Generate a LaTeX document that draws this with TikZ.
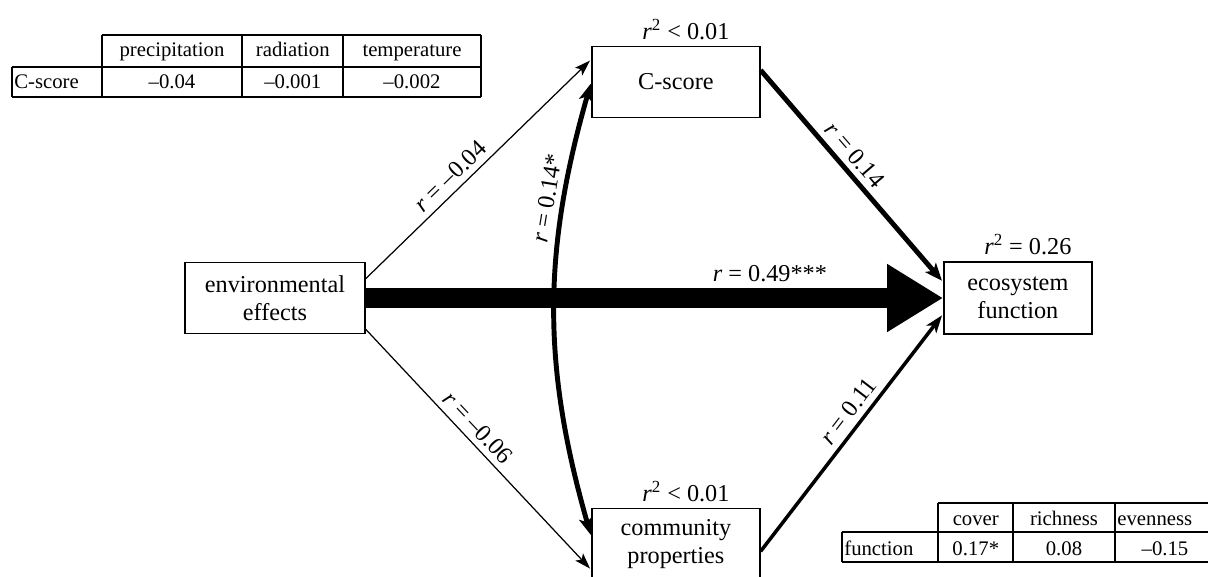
\documentclass[tikz,border=0pt]{standalone}
\usepackage{fontspec}
\setmainfont{Liberation Serif}
\usetikzlibrary{arrows.meta, positioning}

\begin{document}
\begin{tikzpicture}[x=0.02cm, y=-0.02cm, node distance=2cm, on grid,
        font=\fontsize{13.8}{16}\selectfont,
        box/.style={draw, line width=0.8pt, align=center, inner sep=2pt,
            minimum width=3.36cm, minimum height=1.42cm},
        rsq/.style={label={[xshift=0.2cm]above:#1}},
        weak/.style={line width=0.7pt, shorten >=1pt, -{Stealth[length=9pt,width=6pt,inset=2pt]}},
        medium/.style={line width=2pt, shorten >=1pt, -{Stealth[length=10pt,width=7pt,inset=2.5pt]}},
        strong/.style={line width=2.8pt, shorten >=1pt, -{Stealth[length=10pt,width=8pt,inset=2.5pt]}},
        both/.style={line width=2.8pt, shorten >=1pt, shorten <=1pt,
            {Stealth[length=10pt,width=8pt,inset=2.5pt]}-{Stealth[length=10pt,width=8pt,inset=2.5pt]}},
        main/.style={line width=0.4cm, -{Triangle[length=1.12cm,width=1.28cm]}},
        tab/.style={font=\fontsize{11.8}{13}\selectfont, inner sep=0pt, anchor=base},
        rule/.style={line width=1pt}]

    \useasboundingbox (0,0) rectangle (1208,576);

    % path model
    \node[box, minimum width=3.6cm] (env) at (275,298) {environmental\\effects};
    \node[box, rsq={\textit{r}\textsuperscript{2} < 0.01}] (cscore) [above right=4.32cm and 8.02cm of env] {C-score};
    \node[box, rsq={\textit{r}\textsuperscript{2} < 0.01}] (comm) [below right=4.92cm and 8.02cm of env] {community\\properties};
    \node[box, minimum width=2.96cm, minimum height=1.44cm,
          rsq={\textit{r}\textsuperscript{2} = 0.26}] (eco) [right=14.86cm of env] {ecosystem\\function};

    \draw[main] (env.east) -- node[above, pos=0.7] {\textit{r} = 0.49***} (eco.west);

    \path (env.12) edge[weak] node[above, sloped, pos=0.42] {\textit{r} = –0.04} (cscore.165)
          (env.-19) edge[weak] node[above, sloped, pos=0.45] {\textit{r} = –0.06} (comm.197)
          (cscore.8) edge[strong] node[above, sloped, pos=0.45] {\textit{r} = 0.14} (eco.168)
          (comm.-5) edge[medium] node[above, sloped, pos=0.55] {\textit{r} = 0.11} (eco.192)
          (cscore.west) edge[both, bend right=16] node[above, sloped, pos=0.25] {\textit{r} = 0.14*} (comm.175);

    % table: C-score vs climate
    \draw[rule] (101.7,35) -- (481,35) (11.7,66.7) -- (481,66.7) (11.7,96.7) -- (481,96.7)
                (11.7,66.7) -- (11.7,96.7);
    \foreach \x in {101.7,242.3,343.3,481}
        \draw[rule] (\x,35) -- (\x,96.7);
    \node[tab] (hprec) at (172,56.7) {precipitation};
    \node[tab] (hrad) at (292.8,56.7) {radiation};
    \node[tab] (htemp) at (412,56.7) {temperature};
    \node[tab, anchor=base west] (rcs) at (14,88.3) {C-score};
    \node[tab] (vprec) at (172,88.3) {–0.04};
    \node[tab] (vrad) at (292.8,88.3) {–0.001};
    \node[tab] (vtemp) at (412,88.3) {–0.002};

    % table: function vs community
    \draw[rule] (938.3,503.3) -- (1208,503.3) (841.7,531.7) -- (1208,531.7) (841.7,561.7) -- (1208,561.7)
                (841.7,531.7) -- (841.7,561.7);
    \foreach \x in {938.3,1013.3,1115}
        \draw[rule] (\x,503.3) -- (\x,561.7);
    \node[tab] (hcov) at (975.8,525) {cover};
    \node[tab] (hrich) at (1064,525) {richness};
    \node[tab, anchor=base west] (heven) at (1117,525) {evenness};
    \node[tab, anchor=base west] (rfun) at (844,555) {function};
    \node[tab] (vcov) at (975.8,555) {0.17*};
    \node[tab] (vrich) at (1064,555) {0.08};
    \node[tab] (veven) at (1165,555) {–0.15};
\end{tikzpicture}
\end{document}
